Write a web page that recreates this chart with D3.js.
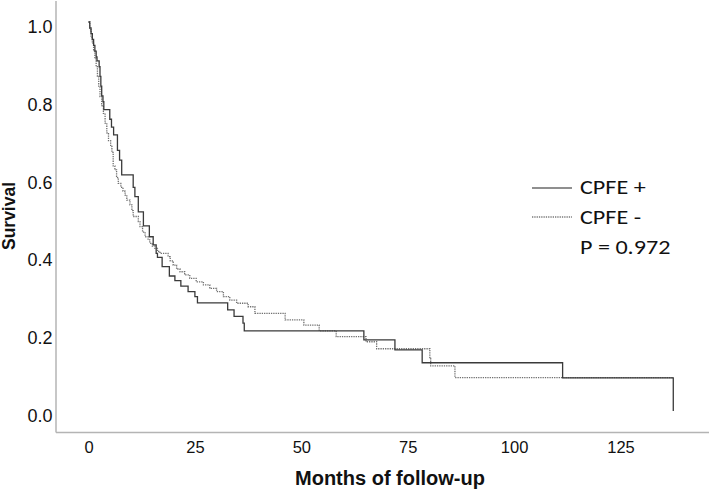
<!DOCTYPE html>
<html>
<head>
<meta charset="utf-8">
<script src="https://cdn.jsdelivr.net/npm/d3@7"></script>
<style>
  html, body { margin: 0; padding: 0; background: #ffffff; }
  svg { display: block; }
</style>
</head>
<body>
<svg id="chart" width="709" height="490"></svg>
<script>
// ---- Data ----
const xTicks = [0, 25, 50, 75, 100, 125];
const yTicks = [0.0, 0.2, 0.4, 0.6, 0.8, 1.0];

// CPFE + (solid): event times (months) and survival after each step
const posTimes = [0, 0.3, 0.6, 0.9, 1.2, 1.5, 1.8, 2.0, 2.5, 2.7, 2.9, 3.1, 3.4, 3.6, 5.0, 5.4, 5.9, 6.8, 7.3, 7.8,
  10.5, 10.9, 11.7, 12.9, 14.3, 15.2, 15.9, 16.2, 17.3, 19.0, 20.3, 21.7, 23.4, 25.0, 25.6, 32.7, 34.2, 36.3, 36.6,
  64.7, 72.0, 78.4, 111.4, 137.4];
const posSurv = [1.0, 0.985, 0.97, 0.955, 0.94, 0.925, 0.91, 0.90, 0.885, 0.86, 0.835, 0.81, 0.795, 0.775, 0.75, 0.73, 0.71, 0.67, 0.645, 0.607,
  0.575, 0.551, 0.512, 0.476, 0.448, 0.427, 0.405, 0.395, 0.371, 0.347, 0.335, 0.321, 0.307, 0.294, 0.278, 0.26, 0.243, 0.226, 0.206,
  0.183, 0.157, 0.124, 0.085, 0.0];

// CPFE - (dotted)
const negTimes = [0, 0.3, 0.6, 0.9, 1.2, 1.5, 1.8, 2.1, 2.4, 2.7, 3.1, 3.5, 3.9, 4.3, 4.7, 5.2, 5.5, 5.8, 6.2, 6.6, 7.0, 7.6, 8.1, 8.6, 9.0,
  9.75, 10.2, 10.5, 11.7, 12.1, 12.7, 13.3, 14.0, 14.4, 15.0, 15.6, 16.2, 16.8, 18.7, 19.2, 19.9, 20.7, 21.5, 22.6, 23.8, 25.3,
  27.0, 28.5, 30.1, 31.7, 33.2, 34.8, 37.5, 39.1, 46.2, 50.6, 54.2, 58.2, 65.2, 67.7, 80.2, 80.4, 86.1, 137.4];
const negSurv = [1.0, 0.98, 0.96, 0.945, 0.925, 0.905, 0.885, 0.86, 0.835, 0.808, 0.785, 0.765, 0.74, 0.715, 0.695, 0.68, 0.665, 0.63, 0.62, 0.60, 0.585, 0.575, 0.565, 0.555, 0.542,
  0.53, 0.515, 0.50, 0.487, 0.474, 0.46, 0.448, 0.44, 0.431, 0.424, 0.418, 0.41, 0.405, 0.397, 0.386, 0.375, 0.365, 0.358, 0.35, 0.341, 0.332,
  0.324, 0.315, 0.307, 0.294, 0.285, 0.277, 0.268, 0.251, 0.234, 0.221, 0.206, 0.191, 0.178, 0.16, 0.135, 0.116, 0.086, 0.086];

const legendLabels = ["CPFE +", "CPFE -"];
const pText = "P = 0.972";
const xTitle = "Months of follow-up";
const yTitle = "Survival";

// ---- Drawing ----
const svg = d3.select("#chart");
const x = d3.scaleLinear().domain([0, 125]).range([88.5, 620.5]);
const y = d3.scaleLinear().domain([0, 1]).range([411, 22]);

const axisColor = "#b4b4b4";
const axisX0 = 56, axisY0 = 432.5;

// axis lines
svg.append("line").attr("x1", axisX0).attr("x2", axisX0).attr("y1", 1).attr("y2", axisY0)
  .attr("stroke", axisColor).attr("stroke-width", 1.5);
svg.append("line").attr("x1", axisX0).attr("x2", 709).attr("y1", axisY0).attr("y2", axisY0)
  .attr("stroke", axisColor).attr("stroke-width", 1.5);

// x axis labels
const gx = svg.append("g").attr("transform", `translate(0,${axisY0})`)
  .call(d3.axisBottom(x).tickValues(xTicks).tickSize(0).tickFormat(d3.format("d")));
gx.select(".domain").remove();
gx.selectAll("text").attr("y", 0).attr("dy", null)
  .attr("transform", "translate(0,20.3)")
  .style("font-family", "'Liberation Sans', Arial, sans-serif")
  .style("font-size", "16.5px").attr("fill", "#111");

// y axis labels
const gy = svg.append("g").attr("transform", `translate(${axisX0},0)`)
  .call(d3.axisLeft(y).tickValues(yTicks).tickSize(0).tickFormat(d3.format(".1f")));
gy.select(".domain").remove();
gy.selectAll("text").attr("x", -3.5).attr("dy", null)
  .attr("transform", "translate(0,10.4)")
  .style("font-family", "'Liberation Sans', Arial, sans-serif")
  .style("font-size", "18px").attr("fill", "#111");

// titles
svg.append("text").attr("x", 390).attr("y", 485)
  .attr("text-anchor", "middle")
  .style("font-family", "'Liberation Sans', Arial, sans-serif")
  .style("font-size", "20px").style("font-weight", "bold").attr("fill", "#111")
  .text(xTitle);
svg.append("text").attr("transform", "translate(15,216) rotate(-90)")
  .attr("text-anchor", "middle")
  .style("font-family", "'Liberation Sans', Arial, sans-serif")
  .style("font-size", "17.5px").style("font-weight", "bold").attr("fill", "#111")
  .text(yTitle);

// curves
const line = d3.line().x(d => x(d[0])).y(d => y(d[1])).curve(d3.curveStepAfter);
const negData = negTimes.map((t, i) => [t, negSurv[i]]);
const posData = posTimes.map((t, i) => [t, posSurv[i]]);

svg.append("path").datum(negData).attr("d", line)
  .attr("fill", "none").attr("stroke", "#707070").attr("stroke-width", 1.3)
  .attr("stroke-dasharray", "1.3,1");
svg.append("path").datum(posData).attr("d", line)
  .attr("fill", "none").attr("stroke", "#3a3a3a").attr("stroke-width", 1.3);

// legend
const lg = svg.append("g");
const legFont = "Carlito, Lato, 'Open Sans', sans-serif";
lg.append("line").attr("x1", 532).attr("x2", 572).attr("y1", 188).attr("y2", 188)
  .attr("stroke", "#6a6a6a").attr("stroke-width", 1.3);
lg.append("line").attr("x1", 532).attr("x2", 572).attr("y1", 217).attr("y2", 217)
  .attr("stroke", "#7a7a7a").attr("stroke-width", 1.3).attr("stroke-dasharray", "1.3,1");
[[legendLabels[0], 193.5], [legendLabels[1], 223.5], [pText, 253.5]].forEach(([t, yy]) => {
  lg.append("text").attr("transform", `translate(580,${yy}) scale(1.15,1)`)
    .style("font-family", legFont).style("font-size", "21px").attr("fill", "#111")
    .text(t);
});
</script>
</body>
</html>
